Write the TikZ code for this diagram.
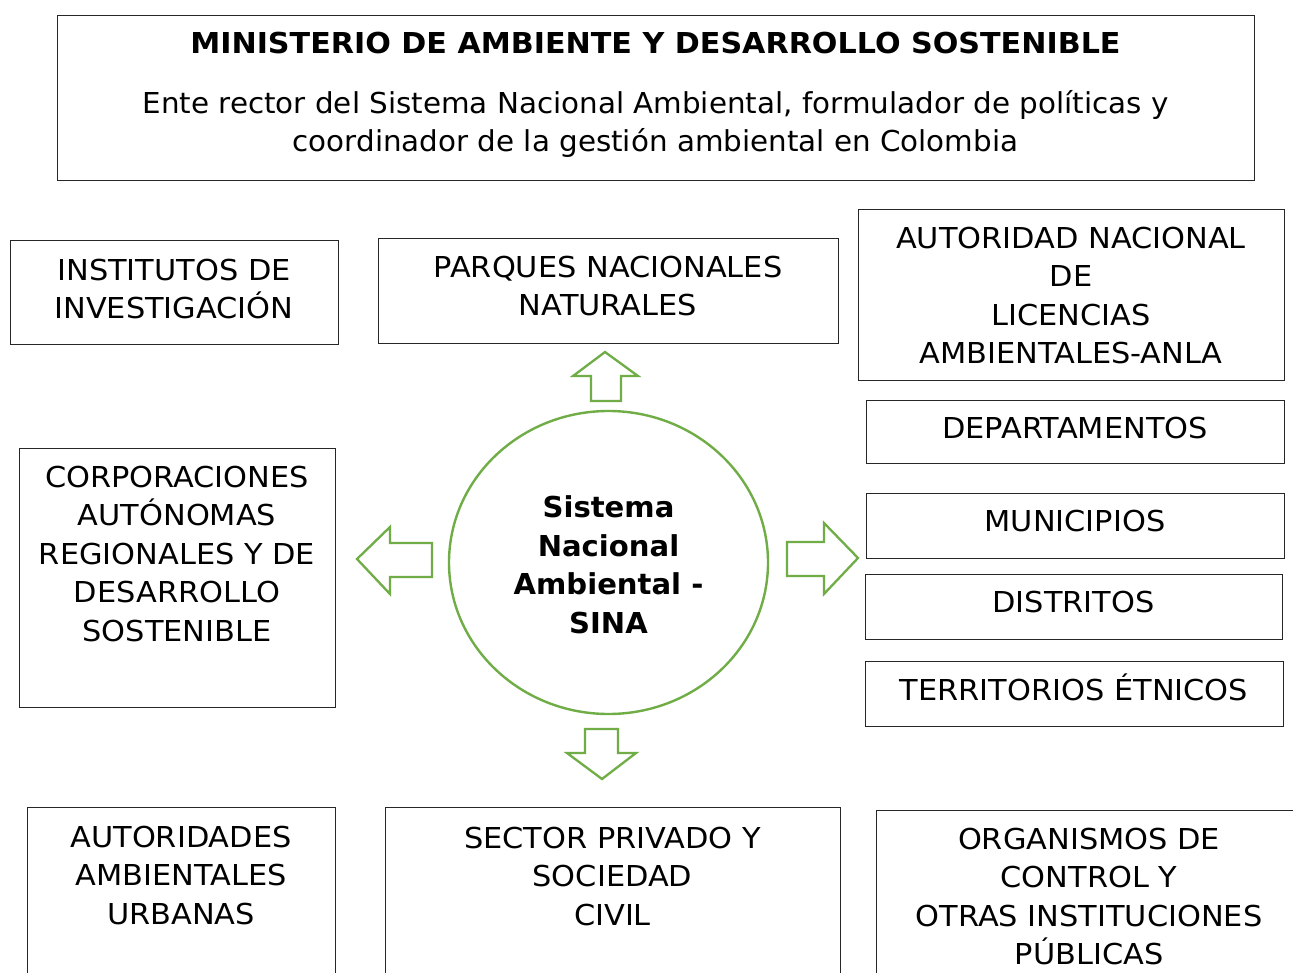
\documentclass[tikz,border=0pt]{standalone}
\usepackage{fontspec}
\setmainfont{DejaVu Sans}
\newfontfamily\capsfont[FakeStretch=1.055]{DejaVu Sans}
\newfontfamily\bodyfont[FakeStretch=1.02]{DejaVu Sans}
\newfontfamily\titlefont[FakeStretch=1.047]{DejaVu Sans Bold}
\newfontfamily\circfont[FakeStretch=1.01]{DejaVu Sans Bold}
\usetikzlibrary{shapes.geometric}
\definecolor{sinagreen}{HTML}{70AD47}
\definecolor{boxline}{HTML}{262626}
\tikzset{
  box/.style={draw=boxline, line width=1.2pt, rectangle, inner sep=0pt, anchor=north west},
  txt/.style={align=center, inner sep=0pt, font=\fontsize{28.8}{38.5}\capsfont, text=black},
  bodytxt/.style={txt, font=\fontsize{28.8}{38.2}\bodyfont},
  ttltxt/.style={txt, font=\fontsize{28.8}{38.5}\titlefont},
  btxt/.style={txt, font=\fontsize{28.8}{38.7}\circfont},
  blockarrow/.style={draw=sinagreen, line width=2.3pt, line join=miter, fill=white},
}
\newcommand{\boxat}[5]{\node[box, minimum width=#4-#2, minimum height=#5-#3] (#1) at (#2,#3) {};}
\begin{document}
\begin{tikzpicture}[x=1pt,y=-1pt]
\useasboundingbox (0,0) rectangle (1293,973);
\fill[white] (0,0) rectangle (1293,973);
% boxes
\boxat{mads}{57}{15}{1254}{180}
\boxat{inst}{10}{240}{338}{344}
\boxat{parq}{378}{238}{838}{343}
\boxat{anla}{858}{209}{1284}{380}
\boxat{dept}{866}{400}{1284}{463}
\boxat{muni}{866}{493}{1284}{558}
\boxat{dist}{865}{574}{1282}{639}
\boxat{terr}{865}{661}{1283}{726}
\boxat{corp}{19}{448}{335}{707}
\boxat{aau}{27}{807}{335}{1000}
\boxat{priv}{385}{807}{840}{1000}
\boxat{org}{876}{810}{1310}{1000}
% texts
\node[ttltxt, anchor=base] (madst) at (655.5,53.5) {MINISTERIO DE AMBIENTE Y DESARROLLO SOSTENIBLE};
\node[bodytxt, anchor=north] (madsb) at (655.5,90.5) {Ente rector del Sistema Nacional Ambiental, formulador de políticas y\\coordinador de la gestión ambiental en Colombia};
\node[txt, anchor=north] (instt) at (174,258.5) {INSTITUTOS DE\\INVESTIGACIÓN};
\node[txt, anchor=north] (parqt) at (608,255.5) {PARQUES NACIONALES\\NATURALES};
\node[txt, anchor=north] (anlat) at (1071,226.5) {AUTORIDAD NACIONAL\\DE\\LICENCIAS\\AMBIENTALES-ANLA};
\node[txt, anchor=base] (deptt) at (1075,438.5) {DEPARTAMENTOS};
\node[txt, anchor=base] (munit) at (1075,531.5) {MUNICIPIOS};
\node[txt, anchor=base] (distt) at (1073.5,612.5) {DISTRITOS};
\node[txt, anchor=base] (terrt) at (1074,700.5) {TERRITORIOS ÉTNICOS};
\node[txt, anchor=north] (corpt) at (177,465.5) {CORPORACIONES\\AUTÓNOMAS\\REGIONALES Y DE\\DESARROLLO\\SOSTENIBLE};
\node[txt, anchor=north] (aaut) at (181,825.5) {AUTORIDADES\\AMBIENTALES\\URBANAS};
\node[txt, anchor=north] (privt) at (612.5,826.5) {SECTOR PRIVADO Y\\SOCIEDAD\\CIVIL};
\node[txt, anchor=north] (orgt) at (1089,827.5) {ORGANISMOS DE\\CONTROL Y\\OTRAS INSTITUCIONES\\PÚBLICAS};
% central circle
\node[draw=sinagreen, line width=2.4pt, ellipse, inner sep=0pt, minimum width=319pt, minimum height=303pt] (sina) at (608.5,562.5) {};
\node[btxt, anchor=north] (sinat) at (608.5,495.5) {Sistema\\Nacional\\Ambiental -\\SINA};
% block arrows
\draw[blockarrow] (591,401) -- (591,376) -- (573,376) -- (605,352) -- (638,376) -- (621,376) -- (621,401) -- cycle;
\draw[blockarrow] (585,729) -- (618,729) -- (618,753) -- (636,753) -- (602,779) -- (567,753) -- (585,753) -- cycle;
\draw[blockarrow] (432,543) -- (390,543) -- (390,527) -- (357,559) -- (390,594) -- (390,577) -- (432,577) -- cycle;
\draw[blockarrow] (787,542) -- (824,542) -- (824,523) -- (858,558) -- (824,594) -- (824,576) -- (787,576) -- cycle;
\end{tikzpicture}
\end{document}
